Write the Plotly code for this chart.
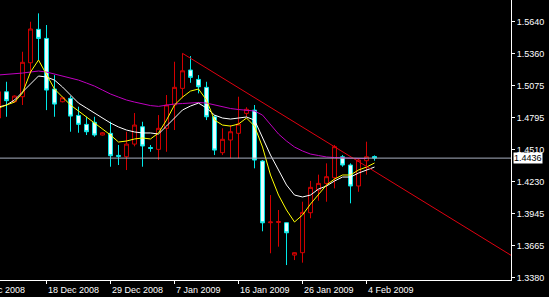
import plotly.graph_objects as go

# ---------------- data ----------------
bars = list(range(-1, 47))
opens = [1.4790, 1.5022, 1.4934, 1.4978, 1.5278, 1.5573, 1.5493, 1.5046, 1.4934, 1.4964,
         1.4813, 1.4734, 1.4752, 1.4640, 1.4655, 1.4460, 1.4448, 1.4560, 1.4713, 1.4530,
         1.4513, 1.4699, 1.4905, 1.5052, 1.5214, 1.5131, 1.5061, 1.4801, 1.4484, 1.4596,
         1.4655, 1.4831, 1.4860, 1.4410, 1.3866, 1.3868, 1.3866, 1.3580, 1.3601, 1.3954,
         1.4154, 1.4213, 1.4263, 1.4448, 1.4375, 1.4190, 1.4413, 1.4450]
highs = [1.5050, 1.5110, 1.4990, 1.5375, 1.5640, 1.5714, 1.5611, 1.5169, 1.4975, 1.4984,
         1.4890, 1.4801, 1.4801, 1.4665, 1.4757, 1.4552, 1.4669, 1.4834, 1.4757, 1.4552,
         1.4816, 1.4993, 1.5287, 1.5361, 1.5337, 1.5169, 1.5110, 1.4816, 1.4699, 1.4728,
         1.4978, 1.4885, 1.4905, 1.4419, 1.4110, 1.3978, 1.3868, 1.3605, 1.4051, 1.4235,
         1.4290, 1.4390, 1.4552, 1.4463, 1.4390, 1.4434, 1.4581, 1.4460]
lows = [1.4760, 1.4801, 1.4925, 1.4905, 1.5184, 1.5302, 1.4860, 1.4801, 1.4928, 1.4669,
        1.4660, 1.4640, 1.4625, 1.4636, 1.4360, 1.4375, 1.4331, 1.4540, 1.4360, 1.4492,
        1.4420, 1.4492, 1.4684, 1.4964, 1.5101, 1.5008, 1.4772, 1.4463, 1.4463, 1.4434,
        1.4434, 1.4800, 1.4346, 1.3790, 1.3596, 1.3654, 1.3492, 1.3536, 1.3513, 1.3905,
        1.4060, 1.4051, 1.4169, 1.4360, 1.4037, 1.4139, 1.4290, 1.4413]
closes = [1.5022, 1.4943, 1.4984, 1.5282, 1.5576, 1.5493, 1.5037, 1.4913, 1.4969, 1.4807,
          1.4734, 1.4669, 1.4640, 1.4660, 1.4457, 1.4452, 1.4560, 1.4728, 1.4543, 1.4522,
          1.4699, 1.4905, 1.5061, 1.5207, 1.5149, 1.5066, 1.4801, 1.4507, 1.4602, 1.4669,
          1.4737, 1.4867, 1.4419, 1.3865, 1.3872, 1.3876, 1.3777, 1.3601, 1.3957, 1.4178,
          1.4213, 1.4272, 1.4537, 1.4375, 1.4190, 1.4419, 1.4448, 1.4436]

ma_fast = [1.4878, 1.4905, 1.4931, 1.5011, 1.5196, 1.5302, 1.5170, 1.5046, 1.4975, 1.4905,
           1.4852, 1.4799, 1.4746, 1.4693, 1.4640, 1.4578, 1.4587, 1.4605, 1.4614, 1.4605,
           1.4658, 1.4772, 1.4905, 1.4975, 1.5028, 1.5046, 1.4949, 1.4772, 1.4728, 1.4719,
           1.4737, 1.4790, 1.4719, 1.4534, 1.4287, 1.4110, 1.3978, 1.3872, 1.3934, 1.4031,
           1.4119, 1.4199, 1.4251, 1.4287, 1.4287, 1.4331, 1.4357, 1.4393]
ma_mid = [1.4887, 1.4905, 1.4949, 1.5020, 1.5090, 1.5161, 1.5152, 1.5125, 1.5064, 1.4993,
          1.4922, 1.4878, 1.4834, 1.4790, 1.4746, 1.4711, 1.4684, 1.4667, 1.4658, 1.4658,
          1.4649, 1.4719, 1.4790, 1.4861, 1.4896, 1.4922, 1.4878, 1.4816, 1.4790, 1.4781,
          1.4790, 1.4799, 1.4772, 1.4613, 1.4463, 1.4331, 1.4199, 1.4110, 1.4093, 1.4110,
          1.4163, 1.4190, 1.4234, 1.4269, 1.4269, 1.4304, 1.4331, 1.4357]
ma_slow = [1.5170, 1.5174, 1.5183, 1.5187, 1.5196, 1.5205, 1.5196, 1.5178, 1.5161, 1.5143,
           1.5125, 1.5099, 1.5072, 1.5037, 1.5002, 1.4975, 1.4949, 1.4931, 1.4914, 1.4900,
           1.4893, 1.4905, 1.4914, 1.4918, 1.4922, 1.4927, 1.4922, 1.4905, 1.4887, 1.4874,
           1.4865, 1.4861, 1.4852, 1.4816, 1.4728, 1.4649, 1.4587, 1.4534, 1.4499, 1.4472,
           1.4459, 1.4446, 1.4441, 1.4437, 1.4433, 1.4433, 1.4433]

date_ticks = [-3, 5, 13, 21, 29, 37, 45]
date_labels = ["10 Dec 2008", "18 Dec 2008", "29 Dec 2008", "7 Jan 2009",
               "16 Jan 2009", "26 Jan 2009", "4 Feb 2009"]
price_ticks = [1.5640, 1.5360, 1.5075, 1.4795, 1.4510, 1.4230, 1.3945, 1.3665, 1.3380]
last_price = 1.4436
trend_bars = [22, 41]
trend_prices = [1.5361, 1.4536]
x_range = [-0.8125, 63.06]
y_range = [1.3360, 1.5832]

# ---------------- figure ----------------
FONT = "Liberation Sans, Arial, sans-serif"
fig = go.Figure()

fig.add_trace(go.Candlestick(
    x=bars, open=opens, high=highs, low=lows, close=closes,
    increasing=dict(line=dict(color="#D40000", width=1), fillcolor="#000000"),
    decreasing=dict(line=dict(color="#00E8E8", width=1), fillcolor="#E8FFFF"),
    whiskerwidth=0, showlegend=False, hoverinfo="skip",
))

fig.add_trace(go.Scatter(x=bars[:len(ma_slow)], y=ma_slow, mode="lines",
                         line=dict(color="#C000C0", width=1), showlegend=False, hoverinfo="skip"))
fig.add_trace(go.Scatter(x=bars, y=ma_mid, mode="lines",
                         line=dict(color="#FFFFFF", width=1), showlegend=False, hoverinfo="skip"))
fig.add_trace(go.Scatter(x=bars, y=ma_fast, mode="lines",
                         line=dict(color="#FFFF00", width=1), showlegend=False, hoverinfo="skip"))

# trend line (ray extended to the right edge)
slope = (trend_prices[1] - trend_prices[0]) / (trend_bars[1] - trend_bars[0])
end_x = x_range[1]
end_y = trend_prices[0] + slope * (end_x - trend_bars[0])
fig.add_trace(go.Scatter(x=[trend_bars[0], end_x], y=[trend_prices[0], end_y], mode="lines",
                         line=dict(color="#E00010", width=1), showlegend=False, hoverinfo="skip"))

# bid line
fig.add_shape(type="line", xref="paper", x0=0, x1=1, yref="y", y0=last_price, y1=last_price,
              line=dict(color="#A8B0C0", width=1))

# date labels (left aligned to ticks like MT4)
for i, (t, lab) in enumerate(zip(date_ticks, date_labels)):
    frac = (t - x_range[0]) / (x_range[1] - x_range[0])
    fig.add_annotation(xref="paper", yref="paper", x=frac, y=0, xanchor="left", yanchor="top",
                       xshift=-10 if i == 0 else -1, yshift=-3, text=lab, showarrow=False,
                       font=dict(family=FONT, size=9, color="#FFFFFF"))

# last price box
fig.add_annotation(xref="paper", yref="y", x=1, y=last_price, xanchor="left", yanchor="middle",
                   xshift=2, text=f"{last_price:.4f}", showarrow=False, bgcolor="#FFFFFF",
                   borderpad=0, font=dict(family=FONT, size=9, color="#000000"))

fig.update_layout(
    width=549, height=297,
    margin=dict(l=0, r=38, t=0, b=17),
    paper_bgcolor="#000000", plot_bgcolor="#000000",
    showlegend=False,
    xaxis=dict(range=x_range, rangeslider=dict(visible=False), showgrid=False, zeroline=False,
               showline=True, linecolor="#FFFFFF", linewidth=1,
               ticks="outside", ticklen=3, tickcolor="#FFFFFF", tickvals=date_ticks,
               showticklabels=False),
    yaxis=dict(range=y_range, side="right", showgrid=False, zeroline=False,
               showline=True, linecolor="#FFFFFF", linewidth=1,
               ticks="outside", ticklen=3, tickcolor="#FFFFFF",
               tickvals=price_ticks, ticktext=[f"{v:.4f}" for v in price_ticks],
               tickfont=dict(family=FONT, size=9, color="#FFFFFF")),
)

fig.write_html("out.html")
